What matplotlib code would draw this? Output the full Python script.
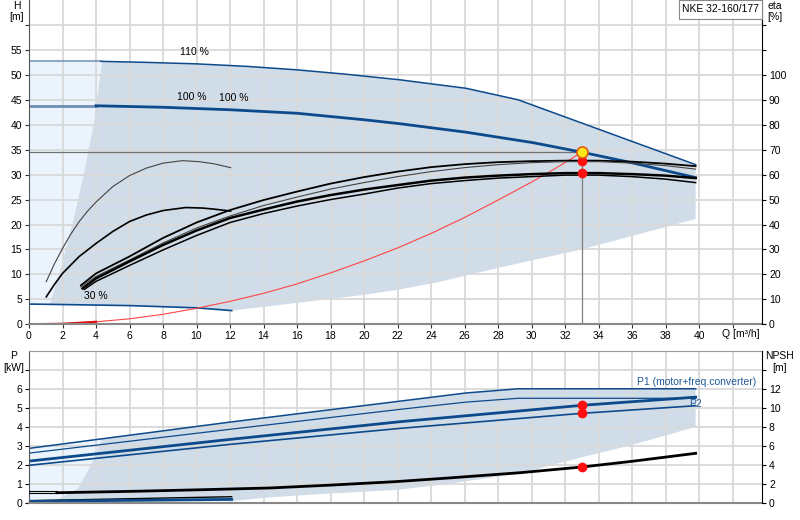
import numpy as np
import matplotlib
matplotlib.use('Agg')
import matplotlib.pyplot as plt
from matplotlib.patches import Rectangle

plt.rcParams['font.family'] = ['Liberation Sans', 'DejaVu Sans']

# ---------------- data ----------------
# Q-H curves [m3/h, m]
q_110 = [0, 4.3, 7, 10, 13, 16, 19, 22.15, 26.1, 29.2, 39.8]
h_110 = [52.7, 52.7, 52.5, 52.2, 51.7, 51.0, 50.1, 49.0, 47.3, 45.0, 32.0]
q_100 = [0, 4, 8, 12, 16, 20, 22.15, 26.1, 30.1, 33, 36.1, 39.8]
h_100 = [43.8, 43.8, 43.5, 43.0, 42.3, 41.0, 40.2, 38.5, 36.4, 34.5, 32.3, 29.4]
q_30 = [0, 1.25, 6, 10, 12.1]
h_30 = [4.05, 4.0, 3.75, 3.3, 2.75]

# system curve
q_sys = [0, 2, 4, 6, 8, 10, 12, 14, 16, 18, 20, 22, 24, 26, 28, 30, 31, 32, 33]
h_sys = [0, 0.1, 0.5, 1.1, 2.0, 3.2, 4.6, 6.2, 8.1, 10.3, 12.7, 15.3, 18.2, 21.4,
         24.9, 28.5, 30.4, 32.4, 34.5]

# duty point
q_duty = 33
h_duty = 34.5

# efficiency curves [%]
q_eta = [4, 6, 8, 10, 12, 14, 16, 18, 20, 22, 24, 26, 28, 30, 32, 33, 34, 36, 38, 39.8]
eta_a = [20.4, 27.2, 34.6, 40.8, 45.8, 49.8, 53.2, 56.4, 59.0, 61.2, 63.0, 64.2, 65.0, 65.4, 65.6, 65.6, 65.6, 65.2, 64.4, 63.4]
eta_b = [19.2, 25.8, 32.6, 38.6, 43.4, 47.6, 51.0, 54.2, 56.8, 59.2, 61.2, 62.8, 64.0, 64.8, 65.2, 65.2, 65.2, 64.6, 63.6, 62.2]
eta_c = [18.4, 25.2, 31.8, 37.6, 42.6, 46.0, 49.2, 51.8, 54.0, 55.8, 57.6, 58.8, 59.6, 60.2, 60.6, 60.6, 60.6, 60.2, 59.6, 58.6]
eta_d = [17.2, 23.6, 29.8, 35.6, 40.8, 44.4, 47.4, 50.0, 52.2, 54.6, 56.4, 57.6, 58.6, 59.2, 59.8, 59.8, 59.8, 59.2, 58.2, 56.8]
q_eta_start = [3.1, 3.1, 3.2, 3.3]
eta_start = [15.6, 15.0, 14.4, 14.0]
q_eta_low1 = [1.03, 1.5, 2, 2.5, 3, 3.5, 4, 5, 6, 7, 8, 9.15, 10.15, 11, 12.04]
eta_low1 = [17.1, 24.0, 30.4, 36.2, 41.2, 45.4, 49.0, 55.2, 59.6, 62.6, 64.6, 65.6, 65.2, 64.4, 62.8]
q_eta_low2 = [1.03, 1.5, 2, 3, 4, 5, 6, 7, 8, 9.35, 10.35, 11, 12.04]
eta_low2 = [11.0, 15.8, 20.4, 27.2, 32.4, 37.2, 41.2, 43.8, 45.6, 46.8, 46.6, 46.2, 45.4]
eta_duty = [65.6, 60.6]

# operating area (H chart)
q_left = [1.25, 2.0, 2.65, 3.3, 3.9, 4.36]
h_left = [4.0, 12.5, 20.9, 30.5, 40.9, 52.7]
q_bot = [12.1, 14, 16, 18, 20, 22.15, 24.5, 28, 33, 36, 39.8]
h_bot = [2.75, 3.5, 4.3, 5.1, 5.9, 7.0, 8.5, 11.3, 15.0, 17.7, 21.1]

# power curves [kW]
q_p110 = [0, 12, 22.15, 26.1, 29.2, 39.8]
p1_110 = [2.87, 4.25, 5.35, 5.78, 6.0, 6.0]
p2_110 = [2.62, 3.87, 4.92, 5.30, 5.5, 5.5]
q_p100 = [0, 12, 22.15, 33, 39.8]
p1_100 = [2.2, 3.34, 4.27, 5.13, 5.56]
p2_100 = [1.98, 3.08, 3.92, 4.71, 5.11]
q_p30 = [0, 12.1]
p1_30 = [0.12, 0.33]
p2_30 = [0.09, 0.19]
p_duty = [5.13, 4.71]

# NPSH [m]
q_npsh = [1.65, 6, 10, 14.4, 18, 21.85, 25, 29.3, 33, 36, 39.8]
npsh = [1.08, 1.22, 1.38, 1.58, 1.88, 2.24, 2.62, 3.18, 3.78, 4.38, 5.22]
q_npsh_left = [0, 1.65]
npsh_left1 = [1.26, 1.26]
npsh_left2 = [1.08, 1.08]
npsh_duty = 3.78

# operating area (P chart)
q_pleft = [1.0, 1.95, 2.94, 3.54, 4.04, 4.34]
p_left = [0.0, 0.29, 0.79, 1.73, 2.61, 3.37]
q_pbot = [12.1, 14.4, 18, 21.85, 25, 29.3, 33, 36, 39.8]
p_bot = [0.1, 0.3, 0.5, 0.68, 1.0, 1.55, 2.4, 3.05, 4.0]

x_ticks = list(range(0, 44, 2))
h_ticks = list(range(0, 65, 5))
eta_ticks = list(range(0, 130, 10))
p_ticks = list(range(0, 8))
npsh_ticks = list(range(0, 16, 2))

# ---------------- styling ----------------
W, Hh = 800, 520
DARK = '#d0dce7'
LIGHT = '#ebf4fd'
BLUE = '#0d4a8c'
LBLUE = '#6f8fb3'
GRID = '#d9d9d9'
FS = 7.5

fig = plt.figure(figsize=(W / 100, Hh / 100), dpi=100)
fig.patch.set_facecolor('white')


def ax_rect(l, t, r, b):
    return [l / W, 1 - b / Hh, (r - l) / W, (b - t) / Hh]


XMAX = (762 - 29) / 16.75

# ---------------- top chart ----------------
ax = fig.add_axes(ax_rect(29, 0, 762, 324.3))
ax.set_xlim(0, XMAX)
ax.set_ylim(0, 65)
ax.set_xticks(x_ticks)
ax.set_xticklabels([str(t) if t <= 40 else '' for t in x_ticks])
ax.set_yticks(h_ticks)
ax.set_yticklabels([str(t) if t <= 55 else '' for t in h_ticks])
ax.grid(True, color=GRID, lw=1.3)
ax.set_axisbelow(True)
ax.tick_params(labelsize=FS, length=3, width=0.8, pad=2, colors='#333333', labelcolor='black')
ax.spines['top'].set_visible(False)
ax.spines['left'].set_color('#555555')
ax.spines['bottom'].set_color('#888888')
ax.spines['bottom'].set_linewidth(1.5)
ax.spines['right'].set_visible(False)

# light area
lx = [0] + q_left + [0]
ly = [h_30[0]] + h_left + [h_110[0]]
ax.fill(lx, ly, color=LIGHT, lw=0, zorder=0.2)
# dark area
q110a = np.array(q_110)
h110a = np.array(h_110)
m = q110a > q_left[-1]
dx = q_left + list(q110a[m]) + q_bot[::-1] + [q for q in q_30[::-1] if q > q_left[0] and q < q_bot[0]]
dy = h_left + list(h110a[m]) + h_bot[::-1] + [h for q, h in zip(q_30[::-1], h_30[::-1]) if q > q_left[0] and q < q_bot[0]]
ax.fill(dx, dy, color=DARK, lw=0, zorder=0.2)

# Q-H curves
ax.plot(q_110[:2], h_110[:2], color=LBLUE, lw=1.1, zorder=2)
ax.plot(q_110[1:], h_110[1:], color=BLUE, lw=1.1, zorder=2)
ax.plot(q_100[:2], h_100[:2], color=LBLUE, lw=2.0, zorder=2)
ax.plot(q_100[1:], h_100[1:], color=BLUE, lw=2.0, zorder=2)
ax.plot(q_30, h_30, color=BLUE, lw=1.2, zorder=2)

ax.plot(q_sys, h_sys, color='#ff4545', lw=0.8, zorder=2)
ax.plot(q_sys[:3], h_sys[:3], color='#e01010', lw=1.6, zorder=2)
ax.plot([0, q_duty], [h_duty, h_duty], color='#707070', lw=0.9, zorder=1.5)
ax.plot([q_duty, q_duty], [0, h_duty], color='#808080', lw=0.9, zorder=1.5)

ax.text(9.85, 54.5, '110 %', fontsize=FS, ha='center', va='center')
ax.text(9.7, 45.6, '100 %', fontsize=FS, ha='center', va='center')
ax.text(12.2, 45.4, '100 %', fontsize=FS, ha='center', va='center')
ax.text(4.0, 5.7, '30 %', fontsize=FS, ha='center', va='center')

# eta on twin
axe = ax.twinx()
axe.set_ylim(0, 130)
axe.set_yticks(eta_ticks)
axe.set_yticklabels([str(t) if t <= 100 else '' for t in eta_ticks])
axe.tick_params(labelsize=FS, length=3, width=0.8, pad=2)
for s in ['top', 'left', 'bottom']:
    axe.spines[s].set_visible(False)
axe.spines['right'].set_color('black')

for e0, qs, e, lw, col in [(eta_start[0], q_eta_start[0], eta_a, 1.3, 'black'),
                           (eta_start[1], q_eta_start[1], eta_b, 0.8, '#444444'),
                           (eta_start[2], q_eta_start[2], eta_c, 1.8, 'black'),
                           (eta_start[3], q_eta_start[3], eta_d, 1.1, 'black')]:
    axe.plot([qs] + q_eta, [e0] + e, color=col, lw=lw, zorder=3)
axe.plot(q_eta_low1, eta_low1, color='#444444', lw=0.8)
axe.plot(q_eta_low2, eta_low2, color='black', lw=1.2)
axe.plot([q_duty] * 2, eta_duty, 'o', color='#ff1010', ms=6, zorder=5)
# duty point (H = eta/2 on the shared grid) drawn on the top-most axes
axe.plot([q_duty], [h_duty * 2], 'o', mfc='#ffe81a', mec='#e05a10', ms=8, mew=1.2, zorder=6)

# ---------------- bottom chart ----------------
bx = fig.add_axes(ax_rect(29, 350.7, 762, 503))
bx.set_xlim(0, XMAX)
bx.set_ylim(0, 8)
bx.set_xticks(x_ticks)
bx.set_xticklabels([])
bx.set_yticks(p_ticks)
bx.set_yticklabels([str(t) if t <= 6 else '' for t in p_ticks])
bx.grid(True, color=GRID, lw=1.3)
bx.set_axisbelow(True)
bx.tick_params(axis='x', length=0)
bx.tick_params(axis='y', labelsize=FS, length=3, width=0.8, pad=2)
bx.spines['left'].set_color('#555555')
bx.spines['top'].set_color('#999999')
bx.spines['bottom'].set_color('#888888')
bx.spines['bottom'].set_linewidth(1.5)
bx.spines['right'].set_visible(False)

qp = np.array(q_p110)
pp = np.array(p1_110)
lx = [0] + q_pleft + [0]
ly = [0] + p_left + [p1_110[0]]
bx.fill(lx, ly, color=LIGHT, lw=0, zorder=0.2)
mm = qp > q_pleft[-1]
dx = q_pleft + list(qp[mm]) + q_pbot[::-1]
dy = p_left + list(pp[mm]) + p_bot[::-1]
bx.fill(dx, dy, color=DARK, lw=0, zorder=0.2)

bx.plot(q_p110, p1_110, color=BLUE, lw=1.1)
bx.plot(q_p110, p2_110, color=BLUE, lw=0.9)
bx.plot(q_p100, p1_100, color=BLUE, lw=2.0)
bx.plot(q_p100, p2_100, color=BLUE, lw=1.2)
bx.plot(q_p30, p1_30, color='black', lw=1.0)
bx.plot(q_p30, p2_30, color=BLUE, lw=2.0)
bx.plot([q_duty] * 2, p_duty, 'o', color='#ff1010', ms=6, zorder=5)

bn = bx.twinx()
bn.set_ylim(0, 16)
bn.set_yticks(npsh_ticks)
bn.set_yticklabels([str(t) if t <= 12 else '' for t in npsh_ticks])
bn.tick_params(labelsize=FS, length=3, width=0.8, pad=2)
for s in ['top', 'left', 'bottom']:
    bn.spines[s].set_visible(False)
bn.spines['right'].set_color('black')
bn.plot(q_npsh, npsh, color='black', lw=2.0)
bn.plot(q_npsh_left, npsh_left1, color='black', lw=0.8)
bn.plot(q_npsh_left, npsh_left2, color='black', lw=0.8)
bn.plot([q_duty], [npsh_duty], 'o', color='#ff1010', ms=6, zorder=5)

# ---------------- texts ----------------
def ftext(x, y, s, **kw):
    fig.text(x / W, 1 - y / Hh, s, fontsize=FS, **kw)

ftext(17, 6, 'H', ha='center', va='center')
ftext(17, 17, '[m]', ha='center', va='center')
ftext(775, 6, 'eta', ha='center', va='center')
ftext(775, 17, '[%]', ha='center', va='center')
ftext(14, 356, 'P', ha='center', va='center')
ftext(14, 368, '[kW]', ha='center', va='center')
ftext(780, 356, 'NPSH', ha='center', va='center')
ftext(780, 368, '[m]', ha='center', va='center')
ftext(722, 334, 'Q [m\u00b3/h]', ha='left', va='center')
ftext(637, 382, 'P1 (motor+freq.converter)', ha='left', va='center', color='#1f5a96')
ftext(689, 404, 'P2', ha='left', va='center', color='#1f5a96')

fig.patches.append(Rectangle((679 / W, 1 - 19 / Hh), 83 / W, 19 / Hh,
                             transform=fig.transFigure, fc='white', ec='#888888', lw=0.8, zorder=10))
ftext(720.5, 9, 'NKE 32-160/177', ha='center', va='center', zorder=11)

fig.savefig('out.png', dpi=100)
